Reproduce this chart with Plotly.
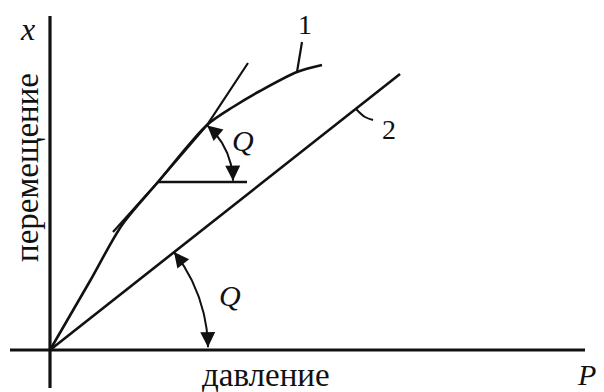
import numpy as np
import plotly.graph_objects as go

# Pressure (P) / displacement (x) coordinates of the drawn curves
curve1_p = [0, 40, 72, 108, 157, 183, 210, 247, 272]
curve1_x = [0, 69, 125, 168, 225, 243, 259, 278, 285]

tangent_p = [63, 108, 157, 198]
tangent_x = [118, 168, 225, 287]

line2_p = [0, 350]
line2_x = [0, 276]

horiz_p = [108, 197]
horiz_x = [168, 168]

# Angle arcs: centre, radius, start/end angle in degrees
arc1_center = (108, 168)
arc1_radius = 75
arc1_angles = (49, 1)
arc2_center = (0, 0)
arc2_radius = 158
arc2_angles = (38.3, 1)

# Leader ticks for the curve numbers
tick1_p = [247, 252]
tick1_x = [278, 308]
tick2_p = [306, 315, 323]
tick2_x = [241, 233, 230]

axis_v_p = [0, 0]
axis_v_x = [-38, 334]
axis_h_p = [-40, 535]
axis_h_x = [0, 0]

BLACK = "#111111"
SERIF = "Times New Roman, Liberation Serif, DejaVu Serif, serif"

fig = go.Figure()


def add_line(px, py, width):
    fig.add_trace(go.Scatter(x=px, y=py, mode="lines",
                             line=dict(color=BLACK, width=width),
                             hoverinfo="skip", showlegend=False))


add_line(axis_v_p, axis_v_x, 3.2)
add_line(axis_h_p, axis_h_x, 3.2)
fig.add_trace(go.Scatter(x=curve1_p, y=curve1_x, mode="lines",
                         line=dict(color=BLACK, width=2.6, shape="spline", smoothing=0.8),
                         hoverinfo="skip", showlegend=False))
add_line(tangent_p, tangent_x, 2.2)
add_line(line2_p, line2_x, 2.6)
add_line(horiz_p, horiz_x, 2.6)
add_line(tick1_p, tick1_x, 2.2)
fig.add_trace(go.Scatter(x=tick2_p, y=tick2_x, mode="lines",
                         line=dict(color=BLACK, width=2, shape="spline"),
                         hoverinfo="skip", showlegend=False))


def add_arc(center, radius, angles):
    t = np.radians(np.linspace(angles[0], angles[1], 60))
    ax_ = center[0] + radius * np.cos(t)
    ay_ = center[1] + radius * np.sin(t)
    add_line(ax_, ay_, 2)
    # arrowheads at both ends, pointing along the arc
    for ang, sign in ((angles[0], 1), (angles[1], -1)):
        th = np.radians(ang)
        tip = (center[0] + radius * np.cos(th), center[1] + radius * np.sin(th))
        d = 14
        dx, dy = -np.sin(th) * sign, np.cos(th) * sign
        fig.add_annotation(x=tip[0], y=tip[1], ax=-dx * d, ay=dy * d,
                           axref="pixel", ayref="pixel", text="",
                           showarrow=True, arrowhead=2, arrowsize=1.5,
                           arrowwidth=2, arrowcolor=BLACK, standoff=0)


add_arc(arc1_center, arc1_radius, arc1_angles)
add_arc(arc2_center, arc2_radius, arc2_angles)


def label(x, y, text, size, italic=False, angle=0):
    fig.add_annotation(x=x, y=y, text=f"<i>{text}</i>" if italic else text,
                       showarrow=False, textangle=angle,
                       font=dict(family=SERIF, size=size, color=BLACK),
                       xanchor="center", yanchor="middle")


label(-23, 321, "x", 32, italic=True)
label(536, -24, "P", 30, italic=True)
label(193, 210, "Q", 30, italic=True)
label(180, 55, "Q", 30, italic=True)
label(255, 326, "1", 28)
label(339, 221, "2", 28)
label(-23, 182, "перемещение", 33, angle=-90)
label(216, -25, "давление", 33)

fig.update_layout(
    width=604, height=392,
    margin=dict(l=0, r=0, t=0, b=0),
    paper_bgcolor="white", plot_bgcolor="white",
    xaxis=dict(range=[-50, 554], visible=False, fixedrange=True),
    yaxis=dict(range=[-42, 350], visible=False, fixedrange=True),
)

fig.write_html("out.html")
